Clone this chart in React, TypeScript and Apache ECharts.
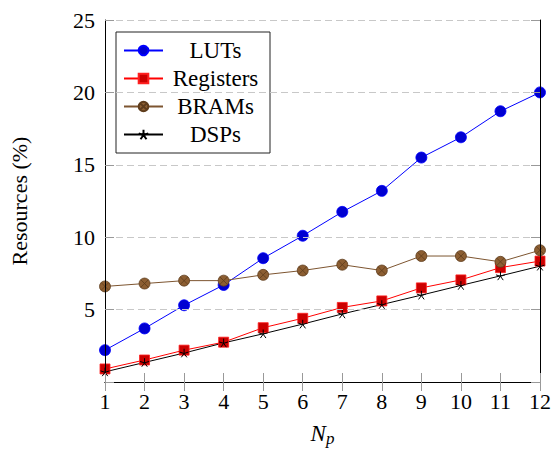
import React, { useEffect, useRef } from "react";
import * as echarts from "echarts";

const np = [1, 2, 3, 4, 5, 6, 7, 8, 9, 10, 11, 12];
const luts = [2.2, 3.7, 5.3, 6.7, 8.55, 10.1, 11.75, 13.2, 15.5, 16.9, 18.7, 20.0];
const registers = [0.9, 1.52, 2.2, 2.75, 3.75, 4.4, 5.15, 5.6, 6.5, 7.05, 7.9, 8.35];
const brams = [6.6, 6.8, 7.0, 7.0, 7.4, 7.7, 8.1, 7.7, 8.7, 8.7, 8.3, 9.1];
const dsps = [0.7, 1.35, 2.0, 2.7, 3.33, 4.0, 4.7, 5.35, 6.0, 6.67, 7.33, 8.0];
const seriesNames = ["LUTs", "Registers", "BRAMs", "DSPs"];
const yTicks = [5, 10, 15, 20, 25];

const FONT = "Liberation Serif";
const FS = 22;

const OTIMES =
  "path://M0,-10 A10,10 0 1,1 0,10 A10,10 0 1,1 0,-10 Z M-7.07,-7.07 L7.07,7.07 M-7.07,7.07 L7.07,-7.07";
const STAR =
  "path://M0,0 L0,-1 M0,0 L0.951,-0.309 M0,0 L0.588,0.809 M0,0 L-0.588,0.809 M0,0 L-0.951,-0.309";

function pairs(vals: number[]) {
  return np.map((x, i) => [x, vals[i]]);
}

export default function App() {
  const ref = useRef<HTMLDivElement>(null);
  useEffect(() => {
    if (!ref.current) return;
    const chart = echarts.init(ref.current, undefined, { renderer: "svg" });
    const tickStyle = { show: true, inside: true, length: 9, lineStyle: { color: "#999", width: 1 } };
    const option: any = {
      animation: false,
      backgroundColor: "#fff",
      grid: { left: 103, top: 20, right: 11, bottom: 66, containLabel: false },
      legend: {
        orient: "vertical",
        left: 116,
        top: 32,
        padding: [7, 7, 7, 7],
        itemWidth: 39,
        itemHeight: 12,
        itemGap: 5,
        borderColor: "#222",
        borderWidth: 1,
        backgroundColor: "#fff",
        data: seriesNames,
        formatter: (name: string) => `{c|${name}}`,
        textStyle: {
          fontFamily: FONT,
          fontSize: FS + 1,
          lineHeight: 22,
          color: "#000",
          rich: { c: { width: 95, align: "center", fontFamily: FONT, fontSize: FS + 1, lineHeight: 22, color: "#000" } },
        },
      },
      xAxis: [
        {
          type: "value",
          min: 1,
          max: 12,
          interval: 1,
          z: 5,
          axisLine: { show: true, lineStyle: { color: "#000", width: 1 } },
          axisTick: tickStyle,
          splitLine: { show: false },
          axisLabel: { fontFamily: FONT, fontSize: FS, color: "#000", margin: 8 },
          name: "{i|N}{s|p}",
          nameLocation: "middle",
          nameGap: 38,
          nameTextStyle: {
            rich: {
              i: { fontFamily: FONT, fontStyle: "italic", fontSize: 23, color: "#000" },
              s: { fontFamily: FONT, fontStyle: "italic", fontSize: 17, color: "#000", padding: [10, 0, 0, 0] },
            },
          },
        },
        {
          type: "value",
          position: "top",
          min: 1,
          max: 12,
          interval: 1,
          z: 5,
          axisLine: { show: true, lineStyle: { color: "#000", width: 1 } },
          axisTick: tickStyle,
          splitLine: { show: false },
          axisLabel: { show: false },
        },
      ],
      yAxis: [
        {
          type: "value",
          min: 0,
          max: 25,
          interval: 5,
          z: 5,
          axisLine: { show: true, lineStyle: { color: "#000", width: 1 } },
          axisTick: tickStyle,
          splitLine: { show: true, lineStyle: { color: "#c8c8c8", width: 1, type: [7, 4] } },
          axisLabel: {
            fontFamily: FONT,
            fontSize: FS,
            color: "#000",
            margin: 10,
            formatter: (v: number) => (yTicks.indexOf(v) >= 0 ? String(v) : ""),
          },
          name: "Resources (%)",
          nameLocation: "middle",
          nameGap: 75,
          nameRotate: 90,
          nameTextStyle: { fontFamily: FONT, fontSize: FS, color: "#000" },
        },
        {
          type: "value",
          position: "right",
          min: 0,
          max: 25,
          interval: 5,
          z: 5,
          axisLine: { show: true, lineStyle: { color: "#000", width: 1 } },
          axisTick: tickStyle,
          splitLine: { show: false },
          axisLabel: { show: false },
        },
      ],
      series: [
        {
          name: "LUTs",
          type: "line",
          data: pairs(luts),
          symbol: "circle",
          symbolSize: 11,
          lineStyle: { color: "#0000ff", width: 1 },
          itemStyle: { color: "#0000d2", borderColor: "#0000ff", borderWidth: 0.8 },
        },
        {
          name: "Registers",
          type: "line",
          data: pairs(registers),
          symbol: "rect",
          symbolSize: 10,
          lineStyle: { color: "#ff0000", width: 1 },
          itemStyle: { color: "#cc0000", borderColor: "#ff2020", borderWidth: 0.8 },
        },
        {
          name: "BRAMs",
          type: "line",
          data: pairs(brams),
          symbol: OTIMES,
          symbolSize: 11,
          symbolKeepAspect: true,
          lineStyle: { color: "#7d5530", width: 1 },
          itemStyle: { color: "#8c5e32", borderColor: "#5e3c1c", borderWidth: 0.8 },
        },
        {
          name: "DSPs",
          type: "line",
          data: pairs(dsps),
          symbol: STAR,
          symbolSize: 9,
          symbolKeepAspect: true,
          lineStyle: { color: "#000", width: 1 },
          itemStyle: { color: "#000", borderColor: "#000", borderWidth: 1 },
        },
      ],
    };
    chart.setOption(option);
    return () => chart.dispose();
  }, []);
  return <div ref={ref} style={{ width: 554, height: 452, position: "absolute", left: 0, top: 0 }} />;
}
